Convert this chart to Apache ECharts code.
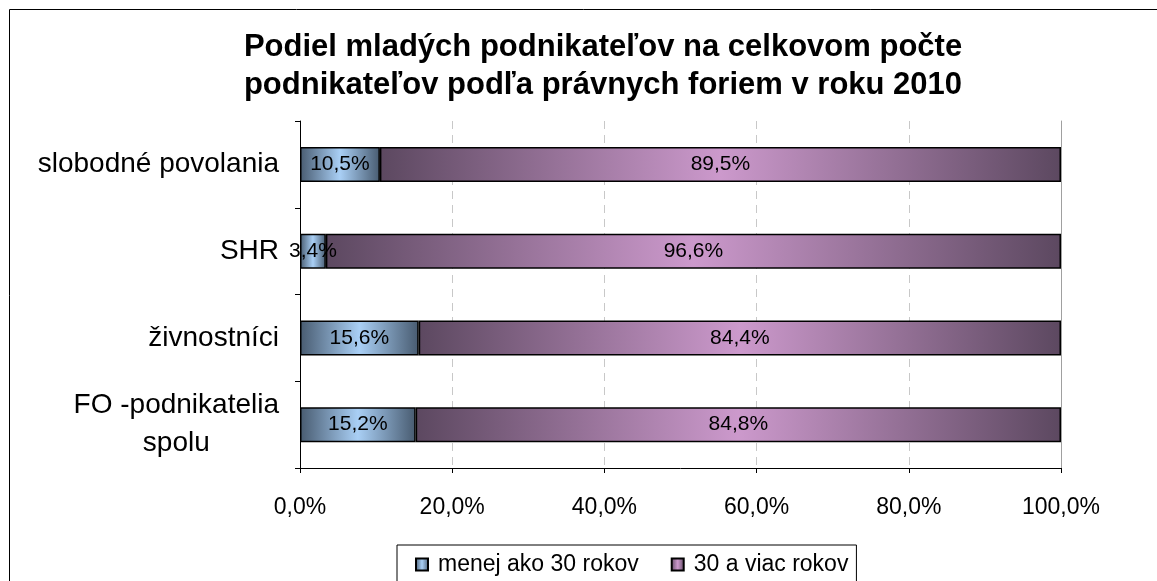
<!DOCTYPE html>
<html>
<head>
<meta charset="utf-8">
<script src="https://cdn.jsdelivr.net/npm/echarts@6/dist/echarts.min.js"></script>
<style>
  html, body { margin: 0; padding: 0; background: #fff; }
  #chart { width: 1157px; height: 581px; }
</style>
</head>
<body>
<div id="chart"></div>
<script>
  // kategórie zhora nadol
  const categories = ['slobodné povolania', 'SHR', 'živnostníci', 'FO -podnikatelia\nspolu'];
  const youngShare = [10.5, 3.4, 15.6, 15.2];   // menej ako 30 rokov
  const olderShare = [89.5, 96.6, 84.4, 84.8];  // 30 a viac rokov
  const seriesNames = ['menej ako 30 rokov', '30 a viac rokov'];
  const xTicks = [0, 20, 40, 60, 80, 100];

  const font = 'Liberation Sans, Arial, sans-serif';

  function pct(v) {
    return v.toFixed(1).replace('.', ',') + '%';
  }

  // horizontálny gradient: tmavé okraje, svetlý stred
  function barGradient(dark, light) {
    return new echarts.graphic.LinearGradient(0, 0, 1, 0, [
      {offset: 0, color: dark},
      {offset: 0.5, color: light},
      {offset: 1, color: dark}
    ]);
  }

  const chart = echarts.init(document.getElementById('chart'));

  chart.setOption({
    backgroundColor: '#fff',
    animation: false,
    textStyle: {fontFamily: font},
    title: {
      text: 'Podiel mladých podnikateľov na celkovom počte\npodnikateľov podľa právnych foriem v roku 2010',
      left: 598,
      textAlign: 'center',
      top: 23,
      textStyle: {
        fontFamily: font,
        fontSize: 31,
        fontWeight: 'bold',
        color: '#000',
        lineHeight: 38
      }
    },
    graphic: [{
      type: 'rect',
      shape: {x: 9.5, y: 9.5, width: 1200, height: 620},
      style: {fill: 'none', stroke: '#000', lineWidth: 1},
      silent: true,
      z: -1
    }],
    legend: {
      left: 397,
      top: 545,
      data: seriesNames,
      icon: 'rect',
      itemWidth: 12,
      itemHeight: 12,
      itemGap: 32,
      borderColor: '#000',
      borderWidth: 1,
      padding: [8, 8, 14, 18],
      textStyle: {fontFamily: font, fontSize: 23, color: '#000', padding: [0, 0, 0, 5]}
    },
    grid: {
      left: 300,
      right: 96,
      top: 121,
      bottom: 113
    },
    xAxis: {
      type: 'value',
      min: xTicks[0],
      max: xTicks[xTicks.length - 1],
      interval: 20,
      axisLine: {show: true, lineStyle: {color: '#000', width: 1}},
      axisTick: {show: true, length: 5, lineStyle: {color: '#000'}},
      axisLabel: {
        margin: 28,
        fontFamily: font,
        fontSize: 23,
        color: '#000',
        formatter: v => pct(v)
      },
      splitLine: {
        show: true,
        lineStyle: {color: '#c8c8c8', type: [8, 6], width: 1}
      }
    },
    yAxis: [{
      type: 'category',
      data: categories,
      inverse: true,
      axisLine: {show: true, lineStyle: {color: '#000', width: 1}},
      axisTick: {show: true, length: 5, inside: false, lineStyle: {color: '#000'}},
      axisLabel: {
        margin: 21,
        color: '#000',
        formatter: v => v.split('\n').map(s => '{a|' + s + '}').join('\n'),
        rich: {
          a: {fontFamily: font, fontSize: 28, color: '#000', align: 'center', lineHeight: 38}
        }
      }
    }, {
      type: 'category',
      data: categories,
      inverse: true,
      position: 'right',
      axisLine: {show: true, lineStyle: {color: '#a0a0a0', width: 1}},
      axisTick: {show: false},
      axisLabel: {show: false}
    }],
    series: [{
      name: seriesNames[0],
      type: 'bar',
      stack: 'total',
      barWidth: 35,
      data: youngShare,
      itemStyle: {
        color: barGradient('#485b70', '#a9cff5'),
        borderColor: '#000',
        borderWidth: 1.5
      },
      label: {
        show: true,
        position: 'inside',
        fontFamily: font,
        fontSize: 21,
        color: '#000',
        formatter: p => pct(p.value)
      }
    }, {
      name: seriesNames[1],
      type: 'bar',
      stack: 'total',
      barWidth: 35,
      data: olderShare,
      itemStyle: {
        color: barGradient('#5c4860', '#cc99cc'),
        borderColor: '#000',
        borderWidth: 1.5
      },
      label: {
        show: true,
        position: 'inside',
        fontFamily: font,
        fontSize: 21,
        color: '#000',
        formatter: p => pct(p.value)
      }
    }]
  });
</script>
</body>
</html>
